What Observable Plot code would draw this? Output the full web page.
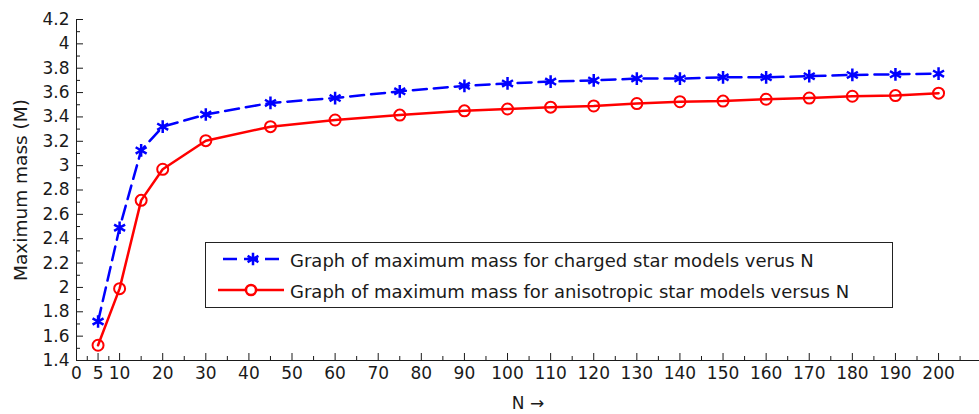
<!DOCTYPE html>
<html><head><meta charset="utf-8">
<script src="https://cdn.jsdelivr.net/npm/d3@7"></script>
<script src="https://cdn.jsdelivr.net/npm/@observablehq/plot@0.6"></script>
<style>
body{margin:0;background:#fff;}
#wrap{position:relative;width:979px;height:414px;overflow:hidden;}
#legend{position:absolute;left:205px;top:242px;width:686px;height:64px;border:1.5px solid #222;background:#fff;}
#legend svg{position:absolute;left:0;top:0;}
</style></head><body><div id="wrap"></div>
<script>
// Data
const N = [5, 10, 15, 20, 30, 45, 60, 75, 90, 100, 110, 120, 130, 140, 150, 160, 170, 180, 190, 200];
const charged = [1.72, 2.49, 3.125, 3.32, 3.42, 3.515, 3.555, 3.61, 3.655, 3.675, 3.69, 3.70, 3.715, 3.715, 3.725, 3.725, 3.735, 3.745, 3.75, 3.755];
const anisotropic = [1.525, 1.99, 2.715, 2.97, 3.205, 3.32, 3.375, 3.415, 3.45, 3.465, 3.48, 3.49, 3.51, 3.525, 3.53, 3.545, 3.555, 3.57, 3.575, 3.595];
const seriesNames = [
  "Graph of maximum mass for charged star models verus N",
  "Graph of maximum mass for anisotropic star models versus N"
];
const xTicks = [0, 5, 10, 20, 30, 40, 50, 60, 70, 80, 90, 100, 110, 120, 130, 140, 150, 160, 170, 180, 190, 200];
const xMinor = [2.5, 7.5, 15, 25, 35, 45, 55, 65, 75, 85, 95, 105, 115, 125, 135, 145, 155, 165, 175, 185, 195, 205];
const yTicks = [1.4, 1.6, 1.8, 2, 2.2, 2.4, 2.6, 2.8, 3, 3.2, 3.4, 3.6, 3.8, 4, 4.2];
const yMinor = [1.5, 1.7, 1.9, 2.1, 2.3, 2.5, 2.7, 2.9, 3.1, 3.3, 3.5, 3.7, 3.9, 4.1];
const xDomain = [0, 209.5];
const yDomain = [1.4, 4.2];

const chargedData = N.map((n, i) => ({N: n, M: charged[i]}));
const anisoData = N.map((n, i) => ({N: n, M: anisotropic[i]}));

const blue = "#0000ff", red = "#ff0000", ink = "#1a1a1a";

const chart = Plot.plot({
  width: 979,
  height: 414,
  marginLeft: 76,
  marginTop: 19,
  marginBottom: 54,
  marginRight: 0,
  style: {fontFamily: "DejaVu Sans", fontSize: "17px", background: "white", color: ink},
  x: {domain: xDomain},
  y: {domain: yDomain},
  marks: [
    Plot.axisX(xTicks, {tickSize: 0, tickPadding: 6, tickFormat: d => String(d), label: null}),
    Plot.axisX(xTicks, {tickSize: -7, tickFormat: () => "", label: null}),
    Plot.axisX(xMinor, {tickSize: -4, tickFormat: () => "", label: null}),
    Plot.axisY(yTicks, {tickSize: 0, tickPadding: 7, tickFormat: d => String(d), label: null}),
    Plot.axisY(yTicks, {tickSize: -7, tickFormat: () => "", label: null}),
    Plot.axisY(yMinor, {tickSize: -4, tickFormat: () => "", label: null}),
    Plot.axisX({ticks: [], label: "N \u2192", labelAnchor: "center", labelArrow: "none", labelOffset: 48, tickSize: 0}),
    Plot.axisY({ticks: [], label: "Maximum mass (M)", labelAnchor: "center", labelArrow: "none", labelOffset: 63, tickSize: 0, fontSize: 18.5}),
    Plot.ruleX([xDomain[0]], {stroke: ink}),
    Plot.ruleY([yDomain[0]], {stroke: ink}),
    Plot.line(chargedData, {x: "N", y: "M", stroke: blue, strokeWidth: 2.5, strokeDasharray: "14,7"}),
    Plot.dot(chargedData, {x: "N", y: "M", symbol: "asterisk", r: 6, stroke: blue, strokeWidth: 2.5}),
    Plot.line(anisoData, {x: "N", y: "M", stroke: red, strokeWidth: 2.5}),
    Plot.dot(anisoData, {x: "N", y: "M", symbol: "circle", r: 5.5, stroke: red, strokeWidth: 2, fill: "none"})
  ]
});

const wrap = document.getElementById("wrap");
wrap.appendChild(chart);

// Legend box
const legend = document.createElement("div");
legend.id = "legend";
wrap.appendChild(legend);
const ls = d3.select(legend).append("svg").attr("width", 686).attr("height", 64)
  .style("font-family", "DejaVu Sans").style("font-size", "18px");
const rows = [
  {name: seriesNames[0], color: blue, dash: "14,7", sym: d3.symbolAsterisk, y: 16, x1: 17, x2: 78, mx: 47},
  {name: seriesNames[1], color: red, dash: null, sym: d3.symbolCircle, y: 47, x1: 12, x2: 78, mx: 45}
];
rows.forEach(r => {
  ls.append("line").attr("x1", r.x1).attr("x2", r.x2).attr("y1", r.y).attr("y2", r.y)
    .attr("stroke", r.color).attr("stroke-width", 2.5).attr("stroke-dasharray", r.dash);
  ls.append("path").attr("d", d3.symbol(r.sym, r.sym === d3.symbolCircle ? 80 : 110)())
    .attr("transform", `translate(${r.mx},${r.y})`)
    .attr("fill", r.sym === d3.symbolCircle ? "white" : "none").attr("stroke", r.color).attr("stroke-width", 2.5);
  ls.append("text").attr("x", 84).attr("y", r.y + 8).attr("fill", ink).text(r.name);
});
</script>
</body></html>
